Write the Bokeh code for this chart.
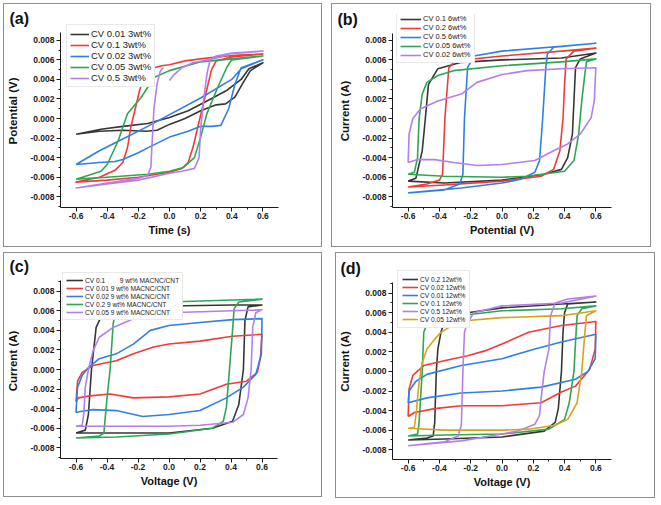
from bokeh.plotting import figure
from bokeh.models import (Legend, LegendItem, Range1d, SingleIntervalTicker,
                          PrintfTickFormatter)
from bokeh.layouts import row, column
from bokeh.embed import file_html
from bokeh.resources import INLINE

FONT = "Liberation Sans"
C_BLACK = "#363636"
C_RED = "#f23a3a"
C_BLUE = "#2f7fe6"
C_GREEN = "#2ea652"
C_PURPLE = "#b37fea"
C_ORANGE = "#d8a11e"

# ---------------- panel (a) ----------------
A_K_V = [-0.6, -0.44, -0.3, -0.14, 0.0, 0.12, 0.24, 0.37, 0.46, 0.51, 0.6,
         0.52, 0.47, 0.42, 0.36, 0.3, 0.2, 0.1, 0.0, -0.08, -0.15, -0.3, -0.45, -0.6]
A_K_I = [-0.0016, -0.0011, -0.0008, -0.0005, 0.0001, 0.0008, 0.0018, 0.0029, 0.0040, 0.0051, 0.0057,
         0.0049, 0.0036, 0.0022, 0.0015, 0.0014, 0.0008, 0.0, -0.0006, -0.0012, -0.0013, -0.0012, -0.0013, -0.0016]
A_R_V = [0.0, 0.1, 0.2, 0.3, 0.45, 0.6, 0.4, 0.3, 0.27, 0.24, 0.21, 0.18, 0.15, 0.12, 0.08, 0.0,
         -0.2, -0.4, -0.6, -0.45, -0.35, -0.3, -0.27, -0.25, -0.22, -0.19, -0.15, -0.1, -0.05, 0.0]
A_R_I = [0.0055, 0.0059, 0.0061, 0.0063, 0.0065, 0.0066, 0.0063, 0.0059, 0.0050, 0.0030, 0.0010, -0.0010,
         -0.0030, -0.0045, -0.0051, -0.0055, -0.0060, -0.0063, -0.0065, -0.0060, -0.0053, -0.0045, -0.0030,
         -0.0010, 0.0010, 0.0030, 0.0045, 0.0052, 0.0054, 0.0055]
A_B_V = [-0.6, -0.45, -0.3, -0.14, 0.0, 0.2, 0.4, 0.46, 0.6, 0.46, 0.42, 0.38, 0.33, 0.27, 0.2, 0.12,
         0.0, -0.14, -0.2, -0.3, -0.35, -0.45, -0.6]
A_B_I = [-0.0047, -0.0033, -0.0021, -0.0008, 0.0004, 0.0021, 0.0040, 0.0051, 0.0060, 0.0052, 0.0035,
         0.0010, -0.0007, -0.0008, -0.0008, -0.0013, -0.0019, -0.0030, -0.0035, -0.0042, -0.0044, -0.0045, -0.0047]
A_G_V = [-0.6, -0.44, -0.4, -0.33, -0.27, -0.18, -0.1, 0.0, 0.2, 0.4, 0.6, 0.4, 0.37, 0.31, 0.24, 0.2,
         0.16, 0.09, 0.0, -0.14, -0.4, -0.6]
A_G_I = [-0.0062, -0.0054, -0.0047, -0.0023, 0.0005, 0.0022, 0.0042, 0.0049, 0.0058, 0.0061, 0.0064,
         0.0060, 0.0053, 0.0032, 0.0005, -0.0019, -0.0040, -0.0050, -0.0054, -0.0057, -0.0060, -0.0062]
A_P_V = [0.0, 0.03, 0.08, 0.15, 0.25, 0.33, 0.38, 0.6, 0.4, 0.3, 0.26, 0.24, 0.22, 0.2, 0.19, 0.16, 0.08,
         0.0, -0.2, -0.4, -0.6, -0.4, -0.2, -0.14, -0.12, -0.11, -0.1, -0.08, -0.06, -0.04]
A_P_I = [0.0039, 0.0045, 0.0052, 0.0057, 0.0060, 0.0063, 0.0066, 0.0069, 0.0067, 0.0064, 0.0060, 0.0045,
         0.0020, -0.0010, -0.0040, -0.0051, -0.0054, -0.0056, -0.0063, -0.0067, -0.0071, -0.0066, -0.0061,
         -0.0058, -0.0050, -0.0020, 0.0010, 0.0035, 0.0048, 0.0052]
A_LABELS = ["CV 0.01 3wt%", "CV 0.1 3wt%", "CV 0.02 3wt%", "CV 0.05 3wt%", "CV 0.5 3wt%"]

# ---------------- panel (b) ----------------
B_K_V = [-0.6, -0.55, -0.51, -0.49, -0.47, -0.41, -0.26, 0.0, 0.38, 0.6, 0.5, 0.47, 0.46, 0.45, 0.42,
         0.38, 0.27, 0.0, -0.37, -0.6]
B_K_I = [-0.0064, -0.0061, -0.0033, 0.0, 0.0035, 0.0051, 0.00575, 0.0060, 0.0062, 0.0067, 0.0061, 0.0052,
         0.0018, -0.0016, -0.0040, -0.0052, -0.0057, -0.0063, -0.0066, -0.0064]
B_R_V = [-0.6, -0.48, -0.4, -0.38, -0.365, -0.34, -0.3, 0.0, 0.38, 0.6, 0.46, 0.41, 0.4, 0.39, 0.37,
         0.33, 0.25, 0.0, -0.37, -0.6]
B_R_I = [-0.0070, -0.0067, -0.0063, -0.0057, 0.0, 0.0052, 0.0059, 0.0064, 0.0069, 0.0072, 0.0069, 0.0061,
         0.0035, 0.0, -0.0033, -0.0052, -0.0059, -0.0064, -0.0068, -0.0070]
B_B_V = [-0.6, -0.37, -0.27, -0.25, -0.24, -0.22, -0.18, 0.0, 0.38, 0.6, 0.33, 0.29, 0.28, 0.26, 0.24,
         0.21, 0.12, 0.0, -0.26, -0.6]
B_B_I = [-0.0076, -0.0073, -0.0067, -0.0057, 0.0, 0.0052, 0.0064, 0.0069, 0.0074, 0.0077, 0.0073, 0.0066,
         0.0052, 0.0, -0.0043, -0.0055, -0.0062, -0.0066, -0.0071, -0.0076]
B_G_V = [-0.6, -0.56, -0.54, -0.53, -0.51, -0.48, -0.41, -0.31, 0.0, 0.38, 0.6, 0.54, 0.53, 0.51, 0.49,
         0.46, 0.4, 0.16, 0.0, -0.37, -0.6]
B_G_I = [-0.0057, -0.0055, -0.0040, 0.0, 0.0025, 0.0037, 0.0044, 0.0049, 0.0054, 0.0058, 0.0061, 0.0058,
         0.0046, 0.0018, -0.0016, -0.0043, -0.0054, -0.0059, -0.0060, -0.0059, -0.0057]
B_P_V = [-0.6, -0.594, -0.57, -0.52, -0.41, -0.26, -0.16, 0.0, 0.16, 0.38, 0.6, 0.59, 0.57, 0.5, 0.42,
         0.33, 0.21, 0.0, -0.16, -0.31, -0.43, -0.54, -0.6]
B_P_I = [-0.0045, -0.0016, 0.0, 0.0010, 0.0018, 0.0025, 0.0037, 0.0045, 0.0049, 0.0051, 0.0052, 0.0018,
         0.0001, -0.0016, -0.0026, -0.0033, -0.0043, -0.0047, -0.0048, -0.0045, -0.0042, -0.0042, -0.0045]
B_LABELS = ["CV 0.1 6wt%", "CV 0.2 6wt%", "CV 0.5 6wt%", "CV 0.05 6wt%", "CV 0.02 6wt%"]

# ---------------- panel (c) ----------------
C_K_V = [-0.6, -0.54, -0.52, -0.5, -0.47, -0.42, -0.27, 0.0, 0.41, 0.6, 0.51, 0.49, 0.48, 0.45, 0.41,
         0.28, 0.0, -0.34, -0.6]
C_K_I = [-0.0065, -0.0062, -0.0046, 0.0, 0.0043, 0.0060, 0.0064, 0.0065, 0.0066, 0.0066, 0.0064, 0.0050,
         0.0, -0.0036, -0.0053, -0.0060, -0.0065, -0.0065, -0.0065]
C_R_V = [-0.6, -0.59, -0.56, -0.49, -0.34, -0.23, -0.1, 0.0, 0.2, 0.41, 0.6, 0.59, 0.57, 0.5, 0.37, 0.2,
         0.0, -0.23, -0.38, -0.51, -0.585, -0.6]
C_R_I = [-0.0033, -0.0012, -0.0003, 0.0004, 0.0009, 0.0016, 0.0023, 0.0026, 0.0029, 0.0034, 0.0036,
         0.0012, -0.0003, -0.0012, -0.0015, -0.0025, -0.0028, -0.0029, -0.0025, -0.0027, -0.0029, -0.0033]
C_B_V = [-0.6, -0.59, -0.56, -0.52, -0.45, -0.34, -0.23, -0.12, 0.0, 0.2, 0.41, 0.6, 0.596, 0.56, 0.48,
         0.37, 0.2, 0.0, -0.17, -0.34, -0.49, -0.57, -0.6]
C_B_I = [-0.0044, -0.0018, -0.0006, 0.0002, 0.0011, 0.0016, 0.0026, 0.0040, 0.0045, 0.0048, 0.0051,
         0.0052, 0.0016, -0.0005, -0.0018, -0.0029, -0.0042, -0.0046, -0.0048, -0.0042, -0.0041, -0.0043, -0.0044]
C_G_V = [-0.6, -0.45, -0.42, -0.4, -0.38, -0.36, -0.34, -0.27, 0.0, 0.41, 0.6, 0.45, 0.42, 0.41, 0.39,
         0.37, 0.35, 0.28, 0.0, -0.34, -0.6]
C_G_I = [-0.0070, -0.0068, -0.0065, -0.0029, 0.0, 0.0047, 0.0062, 0.0066, 0.0069, 0.0071, 0.0072, 0.0069,
         0.0062, 0.0040, 0.0, -0.0039, -0.0053, -0.0060, -0.0066, -0.0069, -0.0070]
C_P_V = [-0.6, -0.56, -0.55, -0.54, -0.52, -0.49, -0.45, -0.36, -0.23, 0.0, 0.41, 0.6, 0.56, 0.54, 0.53,
         0.51, 0.48, 0.41, 0.2, 0.0, -0.34, -0.6]
C_P_I = [-0.0058, -0.0057, -0.0046, -0.0018, 0.0, 0.0019, 0.0033, 0.0043, 0.0052, 0.0058, 0.0060, 0.0061,
         0.0058, 0.0043, 0.0, -0.0029, -0.0046, -0.0054, -0.0057, -0.0058, -0.0058, -0.0058]
C_LABELS = ["CV 0.1 " + "\u00a0" * 7 + "9 wt% MACNC/CNT", "CV 0.01 9 wt% MACNC/CNT",
            "CV 0.02 9 wt% MACNC/CNT", "CV 0.2 9 wt% MACNC/CNT", "CV 0.05 9 wt% MACNC/CNT"]

# ---------------- panel (d) ----------------
D_K_V = [-0.6, -0.48, -0.44, -0.43, -0.42, -0.41, -0.39, -0.37, -0.3, -0.22, 0.0, 0.38, 0.6, 0.42, 0.4,
         0.39, 0.38, 0.36, 0.34, 0.27, 0.0, -0.37, -0.6]
D_K_I = [-0.0070, -0.0068, -0.0066, -0.0052, 0.0, 0.0023, 0.0040, 0.0050, 0.0058, 0.0060, 0.0065, 0.0069,
         0.0071, 0.0069, 0.0060, 0.0040, 0.0, -0.0038, -0.0052, -0.0061, -0.0067, -0.0069, -0.0070]
D_R_V = [-0.6, -0.594, -0.57, -0.5, -0.37, -0.22, -0.11, 0.0, 0.17, 0.38, 0.6, 0.596, 0.56, 0.47, 0.38,
         0.25, 0.0, -0.26, -0.43, -0.56, -0.6]
D_R_I = [-0.0046, -0.0018, -0.0004, 0.0006, 0.0011, 0.0016, 0.0021, 0.0028, 0.0040, 0.0047, 0.0051,
         0.0023, 0.0002, -0.0015, -0.0021, -0.0032, -0.0035, -0.0035, -0.0038, -0.0042, -0.0046]
D_B_V = [-0.6, -0.594, -0.55, -0.48, -0.26, 0.0, 0.21, 0.38, 0.6, 0.596, 0.55, 0.47, 0.25, 0.0, -0.26,
         -0.48, -0.6]
D_B_I = [-0.0032, -0.0020, -0.0010, -0.0003, 0.0006, 0.0013, 0.0023, 0.0030, 0.0038, 0.0013, 0.0,
         -0.0008, -0.0016, -0.0020, -0.0022, -0.0027, -0.0032]
D_G_V = [-0.6, -0.54, -0.53, -0.51, -0.5, -0.47, -0.4, -0.22, 0.0, 0.38, 0.6, 0.51, 0.48, 0.47, 0.46,
         0.43, 0.4, 0.3, 0.0, -0.37, -0.6]
D_G_I = [-0.0066, -0.0064, -0.0052, 0.0, 0.0040, 0.0052, 0.0056, 0.0058, 0.0062, 0.0064, 0.0067, 0.0064,
         0.0057, 0.0030, 0.0, -0.0032, -0.0049, -0.0059, -0.0064, -0.0065, -0.0066]
D_P_V = [-0.6, -0.37, -0.28, -0.26, -0.25, -0.24, -0.22, -0.18, 0.0, 0.38, 0.6, 0.42, 0.34, 0.31, 0.3,
         0.27, 0.25, 0.24, 0.21, 0.1, 0.0, -0.26, -0.6]
D_P_I = [-0.0076, -0.0072, -0.0066, -0.0055, 0.0, 0.0040, 0.0050, 0.0060, 0.0067, 0.0070, 0.0077, 0.0074,
         0.0070, 0.0057, 0.0023, 0.0, -0.0028, -0.0045, -0.0054, -0.0061, -0.0064, -0.0071, -0.0076]
D_O_V = [-0.6, -0.56, -0.55, -0.53, -0.51, -0.48, -0.43, -0.39, -0.36, -0.3, -0.22, 0.0, 0.38, 0.6, 0.54,
         0.53, 0.51, 0.48, 0.42, 0.34, 0.17, 0.0, -0.37, -0.6]
D_O_I = [-0.0058, -0.0057, -0.0045, -0.0011, 0.0009, 0.0023, 0.0033, 0.0040, 0.0043, 0.0049, 0.0052,
         0.0055, 0.0057, 0.0062, 0.0057, 0.0040, 0.0, -0.0032, -0.0049, -0.0055, -0.0059, -0.0060, -0.0060, -0.0058]
D_LABELS = ["CV 0.2 12wt%", "CV 0.02 12wt%", "CV 0.01 12wt%", "CV 0.1 12wt%", "CV 0.5 12wt%", "CV 0.05 12wt%"]

X_TICK_STEP = 0.2
Y_TICK_STEP = 0.002


def make_panel(tag, xlabel, ylabel, curves, labels, size, borders, yr, title_off,
               leg_loc, leg_font, leg_row, leg_glyph, leg_pad, ext=18, title_drop=14):
    w, h = size
    bl, br, bt, bb = borders
    frame_h = h - bt - bb
    # extend the plotting frame upward (so the legend is not clipped) while the
    # y axis itself stays limited to the original range via its bounds
    y_top = yr[1] + ext * (yr[1] - yr[0]) / frame_h
    p = figure(width=w, height=h, output_backend="svg", toolbar_location=None,
               x_range=Range1d(-0.7, 0.7), y_range=Range1d(yr[0], y_top),
               min_border_left=bl, min_border_right=br, min_border_top=bt - ext,
               min_border_bottom=bb,
               styles={"border": "1px solid #8d8d8d"})
    p.outline_line_color = None
    p.grid.visible = False
    p.background_fill_color = "white"
    p.border_fill_color = "white"
    p.title.text = tag
    p.title.text_font = FONT
    p.title.text_font_size = "16px"
    p.title.text_font_style = "bold"
    p.title.align = "left"
    p.title.offset = title_off
    p.title.standoff = -2 * title_drop
    p.title.text_color = "#111111"

    p.xaxis.ticker = SingleIntervalTicker(interval=X_TICK_STEP, num_minor_ticks=2)
    p.yaxis.ticker = SingleIntervalTicker(interval=Y_TICK_STEP, num_minor_ticks=2)
    p.yaxis.bounds = (yr[0], yr[1])
    p.xaxis.formatter = PrintfTickFormatter(format="%.1f")
    p.yaxis.formatter = PrintfTickFormatter(format="%.3f")
    p.xaxis.axis_label = xlabel
    p.yaxis.axis_label = ylabel
    for ax in (p.xaxis, p.yaxis):
        ax.axis_line_color = "#1a1a1a"
        ax.major_tick_line_color = "#1a1a1a"
        ax.minor_tick_line_color = "#1a1a1a"
        ax.major_tick_in = 0
        ax.major_tick_out = 4
        ax.minor_tick_in = 0
        ax.minor_tick_out = 2
        ax.major_label_text_font = FONT
        ax.major_label_text_font_style = "bold"
        ax.major_label_text_font_size = "8.5px"
        ax.major_label_text_color = "#1a1a1a"
        ax.axis_label_text_font = FONT
        ax.axis_label_text_font_style = "bold"
        ax.axis_label_text_color = "#111111"
    p.xaxis.major_label_standoff = 1
    p.yaxis.major_label_standoff = 2
    p.xaxis.axis_label_text_font_size = "11px"
    p.yaxis.axis_label_text_font_size = "11.5px"
    p.xaxis.axis_label_standoff = 2
    p.yaxis.axis_label_standoff = 8

    items = []
    for (xs, ys, col), lab in zip(curves, labels):
        r = p.line(xs, ys, line_color=col, line_width=1.6, line_join="round")
        items.append(LegendItem(label=lab, renderers=[r]))
    leg = Legend(items=items, location=leg_loc, margin=0, padding=leg_pad, spacing=0,
                 label_text_font=FONT, label_text_font_size=leg_font,
                 label_height=leg_row, glyph_height=leg_row, glyph_width=leg_glyph,
                 label_standoff=2, border_line_color="#d4d4d4", border_line_width=1,
                 background_fill_color="white", background_fill_alpha=1.0,
                 label_text_color="#222222")
    p.add_layout(leg)
    return p


pa = make_panel("(a)", "Time (s)", "Potential (V)",
                [(A_K_V, A_K_I, C_BLACK), (A_R_V, A_R_I, C_RED), (A_B_V, A_B_I, C_BLUE),
                 (A_G_V, A_G_I, C_GREEN), (A_P_V, A_P_I, C_PURPLE)],
                A_LABELS, (319, 244), (55, 45, 28, 41), (-0.0091, 0.0088), -51,
                (6, 120), "9.5px", 10, 19, 3, ext=18, title_drop=12)
pb = make_panel("(b)", "Potential (V)", "Current (A)",
                [(B_K_V, B_K_I, C_BLACK), (B_R_V, B_R_I, C_RED), (B_B_V, B_B_I, C_BLUE),
                 (B_G_V, B_G_I, C_GREEN), (B_P_V, B_P_I, C_PURPLE)],
                B_LABELS, (320, 244), (60, 41, 29, 41), (-0.0091, 0.0087), -55,
                (4, 144), "7.5px", 8, 21, 3, ext=19, title_drop=13)
pc = make_panel("(c)", "Voltage (V)", "Current (A)",
                [(C_K_V, C_K_I, C_BLACK), (C_R_V, C_R_I, C_RED), (C_B_V, C_B_I, C_BLUE),
                 (C_G_V, C_G_I, C_GREEN), (C_P_V, C_P_I, C_PURPLE)],
                C_LABELS, (319, 245), (55, 46, 27, 40), (-0.0091, 0.0091), -51,
                (2, 138), "6.6px", 8, 17, 3, ext=17, title_drop=11)
pd_ = make_panel("(d)", "Voltage (V)", "Current (A)",
                 [(D_K_V, D_K_I, C_BLACK), (D_R_V, D_R_I, C_RED), (D_B_V, D_B_I, C_BLUE),
                  (D_G_V, D_G_I, C_GREEN), (D_P_V, D_P_I, C_PURPLE), (D_O_V, D_O_I, C_ORANGE)],
                 D_LABELS, (320, 246), (56, 45, 29, 39), (-0.009, 0.0091), -52,
                 (5, 131), "6.6px", 8, 16, 4, ext=19, title_drop=13)

layout = column(row(pa, pb, spacing=9), row(pc, pd_, spacing=13), spacing=5,
                styles={"margin-left": "3px", "margin-top": "3px"})

open("out.html", "w").write(file_html(layout, INLINE))
